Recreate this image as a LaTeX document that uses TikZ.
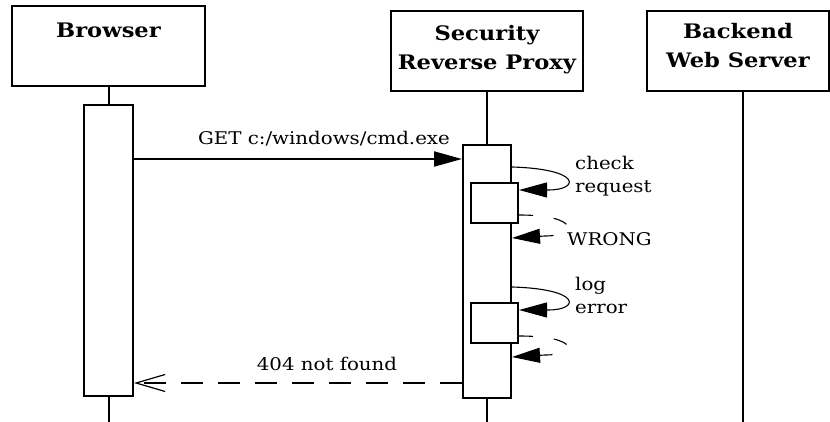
\documentclass[tikz,border=0pt]{standalone}
\usepackage{fontspec}
\setmainfont[FakeStretch=1.13]{DejaVu Serif}
\usetikzlibrary{arrows.meta}
\tikzset{
  hdrbox/.style={draw, line width=2pt, minimum width=#1, minimum height=80pt, inner sep=0pt},
  hdrtext/.style={anchor=north, align=center, font=\fontsize{20}{29}\selectfont\bfseries, inner sep=0pt},
  actbox/.style={draw, fill=white, line width=2pt, inner sep=0pt},
  lifeline/.style={line width=2pt},
  msg/.style={line width=2pt, -{Triangle[length=28pt,width=15pt]}},
  reply/.style={line width=2pt, dash pattern=on 22pt off 15pt, -{Straight Barb[length=29pt,width=17pt,line width=1.2pt]}},
  selfcall/.style={line width=1.1pt, -{Triangle[length=28pt,width=15pt]}},
  selfret/.style={line width=1.1pt, dash pattern=on 14pt off 21pt, -{Triangle[length=28pt,width=15pt]}},
  lbl/.style={font=\fontsize{17.5}{23.5}\selectfont, inner sep=0pt, align=left},
}
\begin{document}
\begin{tikzpicture}[x=1pt,y=-1pt]
  \useasboundingbox (0,0) rectangle (830,422);

  % participant heads
  \node[hdrbox=193pt] (hbrw) at (108.5,46.5) {};
  \node[hdrbox=192pt] (hprx) at (487,51) {};
  \node[hdrbox=182pt] (hbck) at (738,51) {};
  \node[hdrtext] (tbrw) at (108.5,23) {Browser};
  \node[hdrtext] (tprx) at (487,25) {Security\\Reverse Proxy};
  \node[hdrtext] (tbck) at (738,23.5) {Backend\\Web Server};

  % lifelines
  \coordinate (lbrw) at (108.5,422);
  \coordinate (lprx) at (487,422);
  \coordinate (lbck) at (743,422);
  \draw[lifeline] (hbrw.south) -- (lbrw);
  \draw[lifeline] (hprx.south) -- (lprx);
  \draw[lifeline] (hbck.south -| lbck) -- (lbck);

  % activations
  \node[actbox, minimum width=49pt, minimum height=291pt] (abrw) at (108.5,250.5) {};
  \node[actbox, minimum width=48pt, minimum height=253pt] (aprx) at (487,271.5) {};
  \node[actbox, minimum width=47pt, minimum height=40pt] (chk) at (494.5,203) {};
  \node[actbox, minimum width=47pt, minimum height=40pt] (logn) at (494.5,323) {};

  % request
  \coordinate (yget) at (0,159);
  \draw[msg] (abrw.east |- yget) -- (aprx.west |- yget);
  \node[lbl, anchor=base] (lget) at (324,145) {GET c:/windows/cmd.exe};

  % check request
  \coordinate (y1a) at (0,167);
  \coordinate (y1b) at (0,190);
  \draw[selfcall] (aprx.east |- y1a) .. controls (582,169) and (580,190) .. (548,190) -- (chk.east |- y1b);
  \coordinate (y2a) at (0,215);
  \coordinate (y2b) at (0,238);
  \draw[selfret] (chk.east |- y2a) .. controls (580,215) and (578,236) .. (545,236) -- (aprx.east |- y2b);
  \node[lbl, anchor=north west] (lchk) at (575,156) {check\\request};
  \node[lbl, anchor=base west] (lwrg) at (567,245) {WRONG};

  % log error
  \coordinate (y3a) at (0,287);
  \coordinate (y3b) at (0,310);
  \draw[selfcall] (aprx.east |- y3a) .. controls (582,289) and (580,310) .. (548,310) -- (logn.east |- y3b);
  \coordinate (y4a) at (0,336);
  \coordinate (y4b) at (0,357);
  \draw[selfret] (logn.east |- y4a) .. controls (580,336) and (578,355) .. (545,355) -- (aprx.east |- y4b);
  \node[lbl, anchor=north west] (llog) at (575,277) {log\\error};

  % response
  \coordinate (yret) at (0,383);
  \draw[reply] (aprx.west |- yret) -- (abrw.east |- yret);
  \node[lbl, anchor=base] (l404) at (327,370) {404 not found};
\end{tikzpicture}
\end{document}
